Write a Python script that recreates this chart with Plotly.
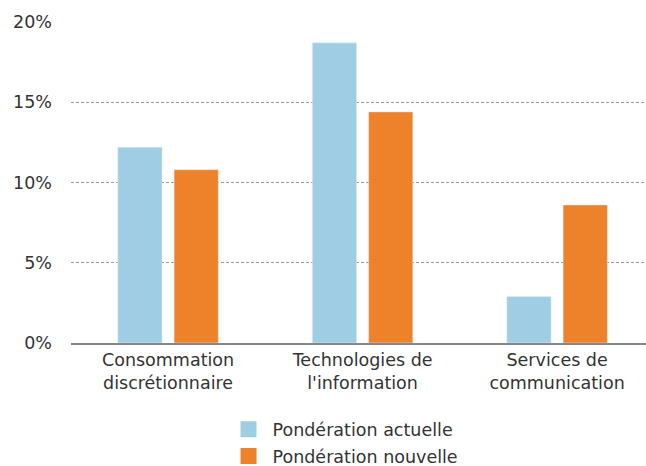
import plotly.graph_objects as go

categories = ["Consommation<br>discrétionnaire", "Technologies de<br>l'information", "Services de<br>communication"]
actuelle = [12.2, 18.7, 2.9]
nouvelle = [10.8, 14.4, 8.6]
series_names = ["Pondération actuelle", "Pondération nouvelle"]
colors = ["#9FCDE4", "#EE822B"]
tick_vals = [0, 5, 10, 15, 20]
tick_text = ["0%", "5%", "10%", "15%", "20%"]

fig = go.Figure()
for name, vals, col in zip(series_names, [actuelle, nouvelle], colors):
    fig.add_trace(go.Bar(x=categories, y=vals, name=name, marker_color=col, showlegend=False))
for name, col in zip(series_names, colors):
    fig.add_trace(go.Scatter(x=[None], y=[None], mode="markers", name=name, legendgroup=name,
                             marker=dict(symbol="square", size=18, color=col)))

fig.update_layout(
    width=646, height=466,
    margin=dict(l=71, r=0, t=22, b=123, autoexpand=False),
    paper_bgcolor="white", plot_bgcolor="white",
    font=dict(family="DejaVu Sans, Noto Sans, sans-serif", size=17, color="#333333"),
    barmode="group", bargap=0.4215, bargroupgap=0.214,
    showlegend=True,
    legend=dict(orientation="v", x=0.267, xanchor="left", y=-0.213, yanchor="top",
                font=dict(size=17.5, color="#333333"), itemwidth=38, itemsizing="trace",
                tracegroupgap=1),
)
fig.update_xaxes(range=[-0.499, 2.457], showgrid=False, showline=True, linecolor="#888888", linewidth=2,
                 ticks="", tickfont=dict(size=17.5, color="#333333"), automargin=False)
fig.update_yaxes(range=[0, 20], tickvals=tick_vals, ticktext=tick_text, showgrid=True,
                 gridcolor="#999999", griddash="3px,2px", gridwidth=1, zeroline=False,
                 ticks="", ticklabelstandoff=18, tickfont=dict(size=17.5, color="#333333"), automargin=False)

fig.write_html("out.html", post_script="document.body.style.margin='0';",
               config={"displayModeBar": False})
